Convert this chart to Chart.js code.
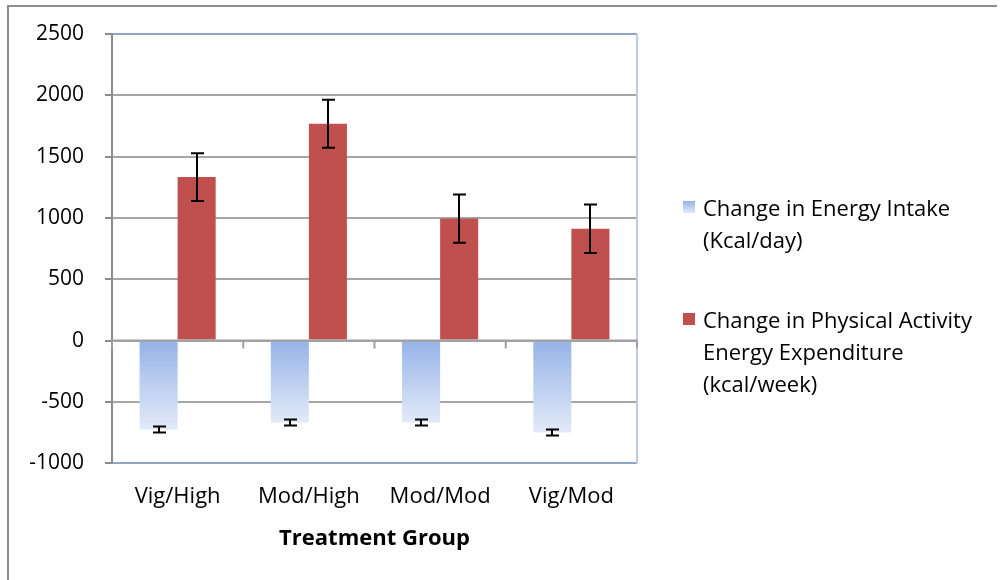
<!DOCTYPE html>
<html>
<head>
<meta charset="utf-8">
<script src="https://cdn.jsdelivr.net/npm/chart.js@4/dist/chart.umd.min.js"></script>
<style>
  html, body { margin: 0; padding: 0; background: #fff; }
  #wrap { position: relative; width: 1003px; height: 580px; }
  #frame { position: absolute; left: 7px; top: 5px; width: 990px; height: 580px;
           border-left: 2px solid #8c8c8c; border-top: 2px solid #8c8c8c; box-sizing: border-box; }
  #legend { position: absolute; left: 683px; top: 191px; font-family: "Open Sans", sans-serif;
            font-size: 22px; line-height: 32px; color: #000; }
  .item { position: relative; padding-left: 20px; margin-bottom: 48px; }
  .sw { position: absolute; left: 0; top: 10px; width: 12px; height: 12px; }
</style>
</head>
<body>
<div id="wrap">
  <div id="frame"></div>
  <canvas id="chart" width="1003" height="580"></canvas>
  <div id="legend"></div>
</div>
<script>
const categories = ["Vig/High", "Mod/High", "Mod/Mod", "Vig/Mod"];
const intakeValues = [-725, -668, -668, -750];
const intakeErrors = [25, 25, 25, 25];
const activityValues = [1333, 1768, 995, 912];
const activityErrors = [195, 195, 197, 197];
const seriesNames = [
  ["Change in Energy Intake", "(Kcal/day)"],
  ["Change in Physical Activity", "Energy Expenditure", "(kcal/week)"]
];
const yTicks = [2500, 2000, 1500, 1000, 500, 0, -500, -1000];

const RED = "#c0504d";
const FONT = "'Open Sans', sans-serif";

// legend as plain html next to the canvas
const legend = document.getElementById("legend");
seriesNames.forEach((lines, i) => {
  const div = document.createElement("div");
  div.className = "item";
  const sw = document.createElement("span");
  sw.className = "sw";
  sw.style.background = i === 0 ? "linear-gradient(#95b3e7, #e3eaf8)" : RED;
  div.appendChild(sw);
  div.insertAdjacentHTML("beforeend", lines.join("<br>"));
  legend.appendChild(div);
});

function blueGradient(context) {
  const chart = context.chart;
  if (!chart.chartArea || !chart.scales.y) return "#b4c7ec";
  const y = chart.scales.y;
  const y0 = y.getPixelForValue(0);
  const y1 = y.getPixelForValue(context.raw);
  if (!isFinite(y1) || y1 === y0) return "#b4c7ec";
  const g = chart.ctx.createLinearGradient(0, y0, 0, y1);
  g.addColorStop(0, "#95b3e7");
  g.addColorStop(1, "#e3eaf8");
  return g;
}

// error bars, zero-line ticks and plot border drawn from the scales
const extrasPlugin = {
  id: "extras",
  beforeDatasetsDraw(chart) {
    const { ctx, chartArea } = chart;
    ctx.save();
    ctx.strokeStyle = "#b9cde5";
    ctx.lineWidth = 2;
    ctx.beginPath();
    ctx.moveTo(chartArea.right, chartArea.top);
    ctx.lineTo(chartArea.right, chartArea.bottom);
    ctx.stroke();
    ctx.restore();
  },
  afterDatasetsDraw(chart) {
    const { ctx, scales: { x, y } } = chart;
    ctx.save();
    // zero line with category ticks
    const y0 = y.getPixelForValue(0);
    ctx.strokeStyle = "#a0a0a0";
    ctx.lineWidth = 2;
    ctx.beginPath();
    ctx.moveTo(chart.chartArea.left, y0);
    ctx.lineTo(chart.chartArea.right, y0);
    for (let i = 0; i <= categories.length; i++) {
      const bx = i === 0 ? chart.chartArea.left
        : i === categories.length ? chart.chartArea.right
        : (x.getPixelForValue(i - 1) + x.getPixelForValue(i)) / 2;
      ctx.moveTo(bx, y0);
      ctx.lineTo(bx, y0 + 8);
    }
    ctx.stroke();

    ctx.strokeStyle = "#000";
    ctx.lineWidth = 2;
    const sets = [[intakeValues, intakeErrors], [activityValues, activityErrors]];
    sets.forEach(([vals, errs], di) => {
      const meta = chart.getDatasetMeta(di);
      meta.data.forEach((bar, i) => {
        const cx = Math.round(bar.x);
        const top = y.getPixelForValue(vals[i] + errs[i]);
        const bot = y.getPixelForValue(vals[i] - errs[i]);
        ctx.beginPath();
        ctx.moveTo(cx, top);
        ctx.lineTo(cx, bot);
        ctx.moveTo(cx - 6, top);
        ctx.lineTo(cx + 7, top);
        ctx.moveTo(cx - 6, bot);
        ctx.lineTo(cx + 7, bot);
        ctx.stroke();
      });
    });
    ctx.restore();
  }
};

new Chart(document.getElementById("chart"), {
  type: "bar",
  data: {
    labels: categories,
    datasets: [
      {
        label: seriesNames[0].join(" "),
        data: intakeValues,
        backgroundColor: blueGradient,
        borderWidth: 0
      },
      {
        label: seriesNames[1].join(" "),
        data: activityValues,
        backgroundColor: RED,
        borderWidth: 0
      }
    ]
  },
  options: {
    responsive: false,
    animation: false,
    layout: { padding: { left: 0, right: 366, top: 34, bottom: 28 } },
    plugins: {
      legend: { display: false },
      tooltip: { enabled: false }
    },
    datasets: {
      bar: { categoryPercentage: 0.58, barPercentage: 1 }
    },
    scales: {
      x: {
        grid: { display: false },
        border: { display: false },
        ticks: { color: "#000", font: { family: FONT, size: 22 }, padding: 12 },
        title: {
          display: true,
          text: "Treatment Group",
          color: "#000",
          font: { family: FONT, size: 22, weight: "bold" },
          padding: { top: 4, bottom: 0 }
        }
      },
      y: {
        min: -1000,
        max: 2500,
        afterFit(scale) { scale.width = 112; },
        afterBuildTicks(scale) { scale.ticks = yTicks.map(v => ({ value: v })); },
        border: { color: "#8c8c8c", width: 2 },
        grid: {
          color: ctx => (ctx.tick && (ctx.tick.value === 2500 || ctx.tick.value === -1000)) ? "#8ea5c6" : "#a6a6a6",
          lineWidth: 2,
          tickLength: 7,
          tickColor: "#8c8c8c"
        },
        ticks: {
          color: "#000",
          font: { family: FONT, size: 21 },
          padding: 21,
          callback: v => String(v)
        }
      }
    }
  },
  plugins: [extrasPlugin]
});
</script>
</body>
</html>
